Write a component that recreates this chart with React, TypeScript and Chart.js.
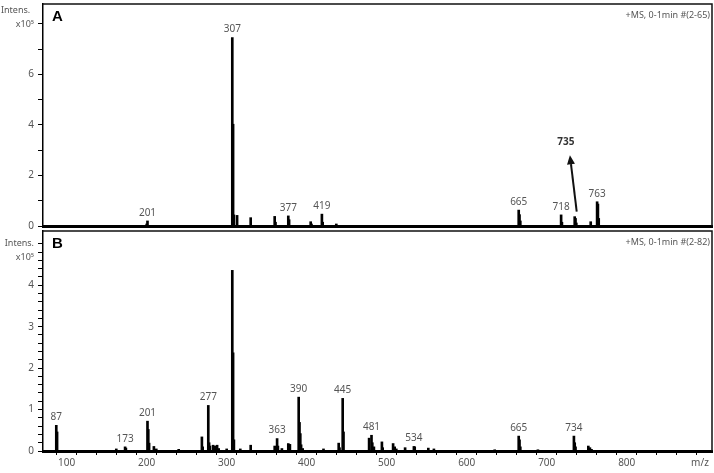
import React, { useEffect, useRef } from "react";
import { Chart, registerables } from "chart.js";
Chart.register(...registerables);

// ---- Panel A (m/z, intensity x10^5) ----
const MZ_A = [200, 201, 307, 308, 309, 313, 330, 360, 361, 377, 378, 405, 406, 419, 420, 437, 665, 666, 667, 718, 719, 735, 736, 737, 755, 763, 764, 765];
const INT_A = [0.08, 0.2, 7.46, 4.03, 0.44, 0.42, 0.33, 0.38, 0.15, 0.4, 0.25, 0.17, 0.08, 0.47, 0.15, 0.08, 0.63, 0.45, 0.2, 0.44, 0.15, 0.37, 0.3, 0.12, 0.17, 0.96, 0.87, 0.3];
const PEAK_LABELS_A = ["201", "307", "377", "419", "665", "718", "763"];

// ---- Panel B ----
const MZ_B = [87, 88, 162, 173, 174, 201, 202, 203, 209, 212, 240, 269, 270, 277, 278, 279, 283, 285, 288, 290, 300, 307, 308, 309, 317, 330, 360, 363, 364, 369, 377, 379, 390, 391, 392, 393, 395, 421, 440, 441, 445, 446, 478, 481, 482, 484, 494, 495, 508, 510, 512, 523, 534, 535, 552, 559, 635, 665, 666, 667, 689, 734, 735, 736, 752, 754, 756];
const INT_B = [0.62, 0.46, 0.05, 0.1, 0.07, 0.72, 0.52, 0.19, 0.11, 0.05, 0.04, 0.34, 0.1, 1.1, 0.2, 0.12, 0.14, 0.12, 0.14, 0.06, 0.05, 4.36, 2.37, 0.27, 0.05, 0.14, 0.12, 0.3, 0.12, 0.06, 0.18, 0.16, 1.3, 0.69, 0.42, 0.15, 0.06, 0.05, 0.19, 0.08, 1.27, 0.46, 0.31, 0.38, 0.2, 0.1, 0.22, 0.08, 0.18, 0.1, 0.05, 0.08, 0.11, 0.1, 0.07, 0.05, 0.03, 0.36, 0.27, 0.1, 0.03, 0.36, 0.2, 0.1, 0.12, 0.08, 0.04];
const PEAK_LABELS_B = ["87", "173", "201", "277", "363", "390", "445", "481", "534", "665", "734"];

// ---- Axes ----
const X_MIN = 70.4;
const X_MAX = 906.6;
const X_TICK_LABELS = [100, 200, 300, 400, 500, 600, 700, 800];
const X_MINOR_STEP = 25;
const Y_MAX_A = 8.79;
const Y_MAX_B = 5.31;
const Y_TICK_LABELS_A = [0, 2, 4, 6];
const Y_TICK_LABELS_B = [0, 1, 2, 3, 4];
const UNIT_LABEL = "x10\u2075";
const INTENS_LABEL = "Intens.";
const SCAN_A = "+MS, 0-1min #(2-65)";
const SCAN_B = "+MS, 0-1min #(2-82)";

// arrow annotation in A (data space)
const ARROW_A = { fromMz: 737.5, fromInt: 0.57, toMz: 729, toInt: 2.8, label: "735", labelMz: 724, labelInt: 3.3 };

const FONT = "'Noto Sans', 'DejaVu Sans', sans-serif";
const GRAY = "#555";

function makeConfig(opts: {
  mz: number[];
  ints: number[];
  peakLabels: string[];
  yMax: number;
  panel: string;
  scan: string;
  showX: boolean;
  padTop: number;
  xHeight: number;
}): any {
  const { mz, ints, peakLabels, yMax, panel, scan, showX, padTop, xHeight } = opts;
  const data = mz.map((m, i) => ({ x: m, y: ints[i] }));

  const overlay = {
    id: "overlay" + panel,
    afterDraw(chart: any) {
      const ctx = chart.ctx;
      const { left, right, top, bottom } = chart.chartArea;
      const xs = chart.scales.x;
      const ys = chart.scales.y;
      ctx.save();
      // frame (top + right)
      ctx.strokeStyle = "#111";
      ctx.lineWidth = 1.5;
      ctx.beginPath();
      ctx.moveTo(left, top);
      ctx.lineTo(right, top);
      ctx.lineTo(right, bottom);
      ctx.stroke();

      // peak labels
      ctx.fillStyle = GRAY;
      ctx.font = `10px ${FONT}`;
      ctx.textAlign = "center";
      ctx.textBaseline = "bottom";
      peakLabels.forEach((t) => {
        const m = Number(t);
        let mx = 0;
        mz.forEach((v, i) => {
          if (Math.abs(v - m) <= 3 && ints[i] > mx) mx = ints[i];
        });
        ctx.fillText(t, xs.getPixelForValue(m), ys.getPixelForValue(mx) - 3);
      });

      // panel letter
      ctx.fillStyle = "#000";
      ctx.font = `bold 15px 'Liberation Sans', Arial, sans-serif`;
      ctx.textAlign = "left";
      ctx.textBaseline = "middle";
      ctx.fillText(panel, left + 9, top + 13);

      // scan info
      ctx.fillStyle = GRAY;
      ctx.font = `9px ${FONT}`;
      ctx.textAlign = "right";
      ctx.fillText(scan, right - 2, top + 11);

      // y unit labels
      ctx.font = `9px ${FONT}`;
      ctx.textAlign = "left";
      if (panel === "A") {
        ctx.fillText(INTENS_LABEL, 1, top + 6);
      } else {
        ctx.textAlign = "right";
        ctx.fillText(UNIT_LABEL, 34, ys.getPixelForValue(4.68));
      }

      // x unit label
      if (showX) {
        ctx.font = `10px ${FONT}`;
        ctx.textAlign = "center";
        ctx.textBaseline = "middle";
        ctx.fillText("m/z", right - 12, bottom + 12);
      }

      // arrow
      if (panel === "A") {
        const x1 = xs.getPixelForValue(ARROW_A.fromMz);
        const y1 = ys.getPixelForValue(ARROW_A.fromInt);
        const x2 = xs.getPixelForValue(ARROW_A.toMz);
        const y2 = ys.getPixelForValue(ARROW_A.toInt);
        const ang = Math.atan2(y2 - y1, x2 - x1);
        const hl = 9;
        const hw = 4;
        const bx = x2 - hl * Math.cos(ang);
        const by = y2 - hl * Math.sin(ang);
        ctx.strokeStyle = "#111";
        ctx.lineWidth = 2;
        ctx.beginPath();
        ctx.moveTo(x1, y1);
        ctx.lineTo(bx, by);
        ctx.stroke();
        ctx.fillStyle = "#111";
        ctx.beginPath();
        ctx.moveTo(x2, y2);
        ctx.lineTo(bx + hw * Math.sin(ang), by - hw * Math.cos(ang));
        ctx.lineTo(bx - hw * Math.sin(ang), by + hw * Math.cos(ang));
        ctx.closePath();
        ctx.fill();
        ctx.fillStyle = "#333";
        ctx.font = `bold 10px ${FONT}`;
        ctx.textAlign = "center";
        ctx.textBaseline = "middle";
        ctx.fillText(ARROW_A.label, xs.getPixelForValue(ARROW_A.labelMz), ys.getPixelForValue(ARROW_A.labelInt));
      }
      ctx.restore();
    },
  };

  const yLabels = panel === "A" ? Y_TICK_LABELS_A : Y_TICK_LABELS_B;
  const yStep = panel === "A" ? 1 : 0.2;
  const yTop = panel === "A" ? 8 : 5;

  return {
    type: "bar",
    data: {
      datasets: [
        {
          data,
          backgroundColor: "#000",
          borderWidth: 0,
          barThickness: 2,
          grouped: false,
        },
      ],
    },
    options: {
      animation: false,
      responsive: false,
      events: [],
      layout: { padding: { top: padTop, right: 2, left: 0, bottom: 0 } },
      plugins: { legend: { display: false }, tooltip: { enabled: false }, title: { display: false } },
      scales: {
        x: {
          type: "linear",
          min: X_MIN,
          max: X_MAX,
          offset: false,
          afterFit: (s: any) => {
            s.height = xHeight;
            s.paddingLeft = 0;
            s.paddingRight = 0;
          },
          afterBuildTicks: (s: any) => {
            const t: any[] = [];
            for (let v = Math.ceil(X_MIN / X_MINOR_STEP) * X_MINOR_STEP; v <= X_MAX; v += X_MINOR_STEP) t.push({ value: v });
            s.ticks = t;
          },
          border: { display: true, color: "#000", width: 3 },
          grid: { drawOnChartArea: false, drawTicks: showX, tickLength: 4, color: "#000", tickColor: "#000" },
          ticks: {
            display: showX,
            autoSkip: false,
            maxRotation: 0,
            padding: 2,
            color: GRAY,
            font: { family: FONT, size: 10 },
            callback: (v: number) => (X_TICK_LABELS.includes(v) ? String(v) : ""),
          },
        },
        y: {
          type: "linear",
          min: 0,
          max: yMax,
          afterFit: (s: any) => {
            s.width = 43;
            s.paddingTop = 0;
            s.paddingBottom = 0;
          },
          afterBuildTicks: (s: any) => {
            const t: any[] = [];
            const n = Math.round(yTop / yStep);
            for (let i = 0; i <= n; i++) t.push({ value: Math.round(i * yStep * 100) / 100 });
            s.ticks = t;
          },
          border: { display: true, color: "#000", width: 1.5 },
          grid: { drawOnChartArea: false, drawTicks: true, tickLength: 5, color: "#000", tickColor: "#000", tickWidth: 1 },
          ticks: {
            autoSkip: false,
            padding: 4,
            color: GRAY,
            font: (c: any) => ({ family: FONT, size: c.tick && c.tick.value === yTop ? 9 : 10 }),
            callback: (v: number) => {
              if (yLabels.includes(v)) return String(v);
              if (v === yTop) return panel === "A" ? UNIT_LABEL : INTENS_LABEL;
              return "";
            },
          },
        },
      },
    },
    plugins: [overlay],
  };
}

export default function App() {
  const refA = useRef<HTMLCanvasElement>(null);
  const refB = useRef<HTMLCanvasElement>(null);

  useEffect(() => {
    const a = new Chart(
      refA.current as HTMLCanvasElement,
      makeConfig({ mz: MZ_A, ints: INT_A, peakLabels: PEAK_LABELS_A, yMax: Y_MAX_A, panel: "A", scan: SCAN_A, showX: false, padTop: 4, xHeight: 4 })
    );
    const b = new Chart(
      refB.current as HTMLCanvasElement,
      makeConfig({ mz: MZ_B, ints: INT_B, peakLabels: PEAK_LABELS_B, yMax: Y_MAX_B, panel: "B", scan: SCAN_B, showX: true, padTop: 1, xHeight: 22 })
    );
    return () => {
      a.destroy();
      b.destroy();
    };
  }, []);

  return (
    <div style={{ position: "fixed", left: 0, top: 0, width: 714, height: 473, background: "#fff" }}>
      <canvas ref={refA} width={714} height={230} style={{ position: "absolute", left: 0, top: 0, width: 714, height: 230 }} />
      <canvas ref={refB} width={714} height={243} style={{ position: "absolute", left: 0, top: 230, width: 714, height: 243 }} />
    </div>
  );
}
